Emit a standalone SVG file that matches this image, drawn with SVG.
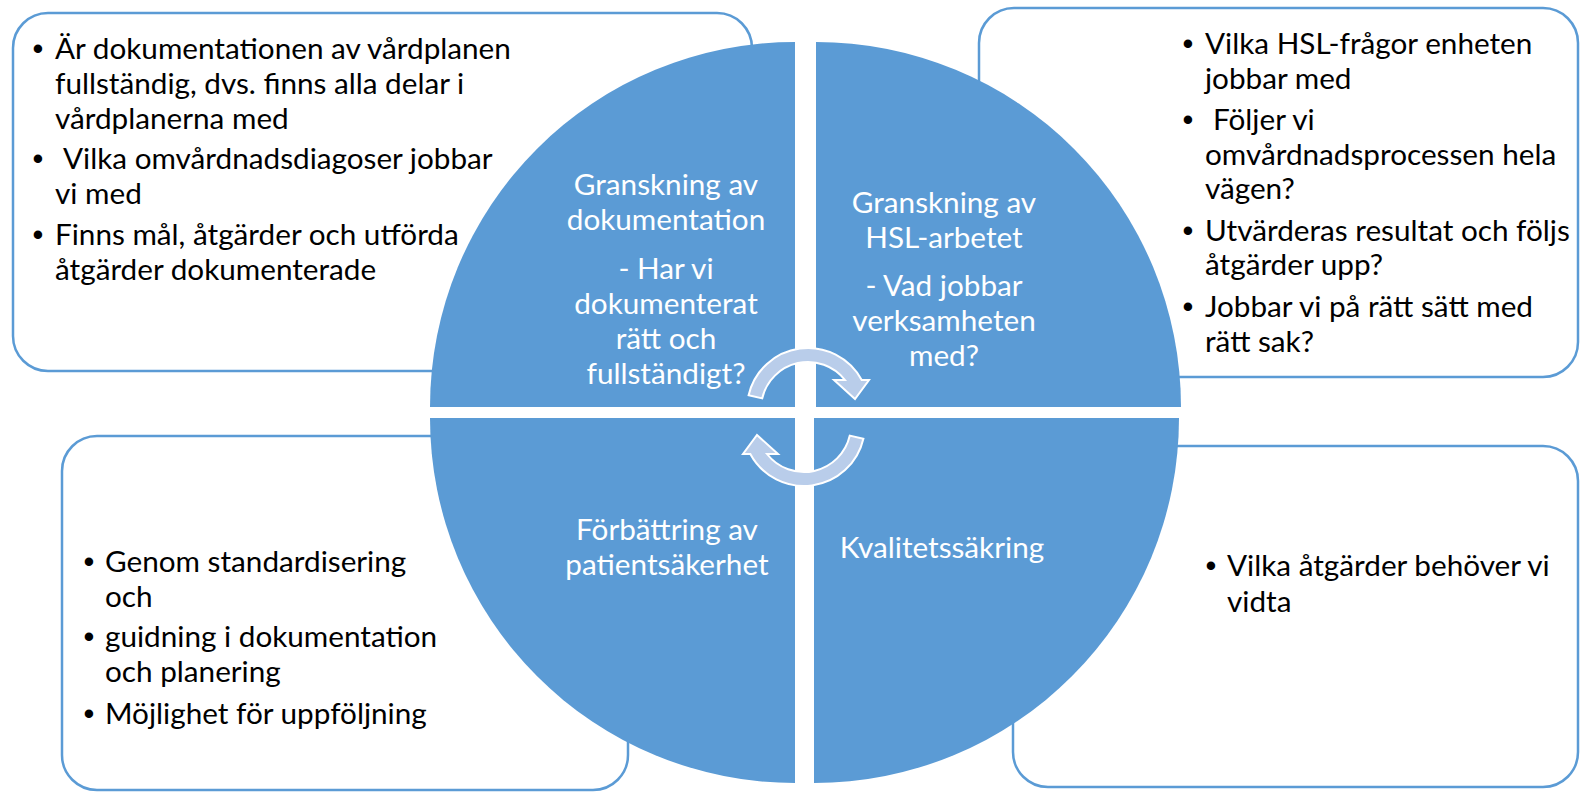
<svg xmlns="http://www.w3.org/2000/svg" width="1580" height="793" viewBox="0 0 1580 793">
<defs>
<style>
.box{fill:#FFFFFF;stroke:#5B9BD5;stroke-width:2.5}
.quad{fill:#5B9BD5}
.arrow{fill:#B9CDEA;stroke:#FFFFFF;stroke-width:2;stroke-linejoin:miter}
.t{font-family:Lato,"Liberation Sans",sans-serif;font-size:29.7px;fill:#000000}
.b{font-family:"Liberation Sans",Arial,sans-serif;font-size:31px;fill:#000000;text-anchor:middle}
.w{font-family:Lato,"Liberation Sans",sans-serif;font-size:29.7px;fill:#FFFFFF;text-anchor:middle}
</style>
<path id="carrow" d="M748.6,395.3 A61,61 0 0 1 861.7,380 L869,380 L855,399 L834,380 L845,380 A47,47 0 0 0 762.2,398.4 Z"/>
</defs>
<rect width="1580" height="793" fill="#FFFFFF"/>
<g id="box-tl"><rect class="box" x="13" y="13" width="739" height="358" rx="35"/></g>
<g id="box-tr"><rect class="box" x="979" y="8" width="599" height="369" rx="35"/></g>
<g id="box-bl"><rect class="box" x="62" y="436" width="566" height="354" rx="35"/></g>
<g id="box-br"><rect class="box" x="1013" y="446" width="565" height="341" rx="35"/></g>
<g id="quad-tl"><path class="quad" d="M795,407 L430,407 A365,365 0 0 1 795,42 Z"/></g>
<g id="quad-tr"><path class="quad" d="M816,407 L816,42 A365,365 0 0 1 1181,407 Z"/></g>
<g id="quad-bl"><path class="quad" d="M795,418 L795,783 A365,365 0 0 1 430,418 Z"/></g>
<g id="quad-br"><path class="quad" d="M814,418 L1179,418 A365,365 0 0 1 814,783 Z"/></g>
<g id="connectors">
<use href="#carrow" class="arrow"/>
<use href="#carrow" class="arrow" transform="rotate(180 806 417)"/>
</g>
<g id="text-tl">
<text class="b" x="38" y="59">•</text>
<text class="t" x="55" y="59">Är dokumentationen av vårdplanen</text>
<text class="t" x="55" y="94">fullständig, dvs. finns alla delar i</text>
<text class="t" x="55" y="129">vårdplanerna med</text>
<text class="b" x="38" y="169">•</text>
<text class="t" x="63" y="169">Vilka omvårdnadsdiagoser jobbar</text>
<text class="t" x="55" y="204">vi med</text>
<text class="b" x="38" y="245">•</text>
<text class="t" x="55" y="245">Finns mål, åtgärder och utförda</text>
<text class="t" x="55" y="280">åtgärder dokumenterade</text>
</g>
<g id="text-tr">
<text class="b" x="1188" y="54">•</text>
<text class="t" x="1205" y="54">Vilka HSL-frågor enheten</text>
<text class="t" x="1205" y="89">jobbar med</text>
<text class="b" x="1188" y="130">•</text>
<text class="t" x="1213" y="130">Följer vi</text>
<text class="t" x="1205" y="165">omvårdnadsprocessen hela</text>
<text class="t" x="1205" y="199">vägen?</text>
<text class="b" x="1188" y="241">•</text>
<text class="t" x="1205" y="241">Utvärderas resultat och följs</text>
<text class="t" x="1205" y="275">åtgärder upp?</text>
<text class="b" x="1188" y="317">•</text>
<text class="t" x="1205" y="317">Jobbar vi på rätt sätt med</text>
<text class="t" x="1205" y="352">rätt sak?</text>
</g>
<g id="text-bl">
<text class="b" x="89" y="572">•</text>
<text class="t" x="105" y="572">Genom standardisering</text>
<text class="t" x="105" y="607">och</text>
<text class="b" x="89" y="647">•</text>
<text class="t" x="105" y="647">guidning i dokumentation</text>
<text class="t" x="105" y="682">och planering</text>
<text class="b" x="89" y="724">•</text>
<text class="t" x="105" y="724">Möjlighet för uppföljning</text>
</g>
<g id="text-br">
<text class="b" x="1211" y="576">•</text>
<text class="t" x="1227" y="576">Vilka åtgärder behöver vi</text>
<text class="t" x="1227" y="612">vidta</text>
</g>
<g id="label-tl">
<text class="w" x="666" y="195">Granskning av</text>
<text class="w" x="666" y="230">dokumentation</text>
<text class="w" x="666" y="279">- Har vi</text>
<text class="w" x="666" y="314">dokumenterat</text>
<text class="w" x="666" y="349">rätt och</text>
<text class="w" x="666" y="384">fullständigt?</text>
</g>
<g id="label-tr">
<text class="w" x="944" y="213">Granskning av</text>
<text class="w" x="944" y="248">HSL-arbetet</text>
<text class="w" x="944" y="296">- Vad jobbar</text>
<text class="w" x="944" y="331">verksamheten</text>
<text class="w" x="944" y="366">med?</text>
</g>
<g id="label-bl">
<text class="w" x="667" y="540">Förbättring av</text>
<text class="w" x="667" y="575">patientsäkerhet</text>
</g>
<g id="label-br">
<text class="w" x="942" y="558">Kvalitetssäkring</text>
</g>
</svg>
